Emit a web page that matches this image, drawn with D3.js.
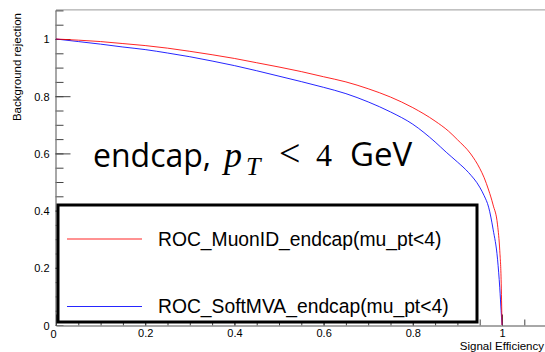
<!DOCTYPE html>
<html>
<head>
<meta charset="utf-8">
<script src="https://cdn.jsdelivr.net/npm/d3@7"></script>
<style>
  html, body { margin: 0; padding: 0; background: #fff; }
  svg { display: block; }
  text { fill: #000; }
</style>
</head>
<body>
<svg id="chart" width="545" height="352"></svg>
<script>
// ROC curves: signal efficiency vs background rejection, endcap muons with pT < 4 GeV
const muonIdEff = [0, 0.05, 0.10, 0.15, 0.20, 0.25, 0.30, 0.35, 0.40, 0.45, 0.50, 0.55, 0.60, 0.65, 0.70, 0.75, 0.80, 0.85, 0.88, 0.90, 0.93, 0.95, 0.96, 0.97, 0.98, 0.99, 0.995, 0.998, 1.0];
const muonIdRej = [1.0, 0.996, 0.991, 0.984, 0.977, 0.968, 0.957, 0.945, 0.932, 0.917, 0.902, 0.886, 0.868, 0.850, 0.826, 0.797, 0.760, 0.713, 0.678, 0.648, 0.598, 0.548, 0.515, 0.472, 0.420, 0.350, 0.260, 0.160, 0.0];

const softMvaEff = [0, 0.05, 0.10, 0.15, 0.20, 0.25, 0.30, 0.35, 0.40, 0.45, 0.50, 0.55, 0.60, 0.65, 0.70, 0.75, 0.80, 0.85, 0.875, 0.90, 0.925, 0.95, 0.96, 0.97, 0.98, 0.99, 0.995, 0.998, 1.0];
const softMvaRej = [1.0, 0.991, 0.982, 0.972, 0.963, 0.951, 0.938, 0.923, 0.907, 0.889, 0.870, 0.851, 0.831, 0.809, 0.780, 0.745, 0.702, 0.640, 0.604, 0.570, 0.533, 0.482, 0.452, 0.412, 0.335, 0.230, 0.130, 0.050, 0.0];

const seriesNames = ["ROC_MuonID_endcap(mu_pt<4)", "ROC_SoftMVA_endcap(mu_pt<4)"];
const seriesColors = ["#ff0000", "#0000ff"];

const xMajorTicks = [0, 0.2, 0.4, 0.6, 0.8, 1];
const xTickLabels = ["0", "0.2", "0.4", "0.6", "0.8", "1"];
const yMajorTicks = [0.2, 0.4, 0.6, 0.8, 1];
const yTickLabels = ["0.2", "0.4", "0.6", "0.8", "1"];
const minorTicks = d3.range(0, 23).map(i => +(i * 0.05).toFixed(2));

const xTitle = "Signal Efficiency";
const yTitle = "Background rejection";

const SANS = "'Liberation Sans', Arial, Helvetica, sans-serif";
const SERIF = "'Liberation Serif', 'DejaVu Serif', serif";
const LABEL = "'Open Sans', 'Noto Sans', sans-serif";

const svg = d3.select("#chart").style("font-family", SANS);
const x = d3.scaleLinear().domain([0, 1.1]).range([56, 546.6]);
const y = d3.scaleLinear().domain([0, 1.1]).range([325, 10.4]);

// frame (top edge; right edge falls outside the canvas)
svg.append("line")
  .attr("x1", x(0)).attr("x2", x(1.1))
  .attr("y1", y(1.1) - 0.5).attr("y2", y(1.1) - 0.5)
  .attr("stroke", "#9a9a9a").attr("stroke-width", 1);

// axes: minor ticks, then major ticks drawn inward
function styleAxis(g) {
  g.attr("font-family", null).attr("font-size", null);
  g.select(".domain").attr("stroke", "#8a8a8a");
  g.selectAll(".tick line").attr("stroke", "#444");
}

svg.append("g").attr("transform", `translate(${x(0) - 0.5},0)`)
  .call(d3.axisLeft(y).tickValues(minorTicks.filter(v => v <= 1.1)).tickSize(-8).tickSizeOuter(0).tickFormat(""))
  .call(styleAxis);
const yAxis = svg.append("g").attr("transform", `translate(${x(0) - 0.5},0)`)
  .call(d3.axisLeft(y).tickValues(yMajorTicks).tickSize(-15).tickSizeOuter(0)
    .tickFormat((d, i) => yTickLabels[i]).tickPadding(6))
  .call(styleAxis);
yAxis.selectAll(".tick text")
  .style("font-family", SANS).style("font-size", "11px").attr("fill", "#000")
  .attr("dy", "0.36em");

svg.append("g").attr("transform", `translate(0,${y(0) + 0.5})`)
  .call(d3.axisBottom(x).tickValues(minorTicks.filter(v => v <= 1.1)).tickSize(-6).tickSizeOuter(0).tickFormat(""))
  .call(styleAxis);
const xAxis = svg.append("g").attr("transform", `translate(0,${y(0) + 0.5})`)
  .call(d3.axisBottom(x).tickValues(xMajorTicks).tickSize(-11).tickSizeOuter(0)
    .tickFormat((d, i) => i === 0 ? "" : xTickLabels[i]).tickPadding(2))
  .call(styleAxis);
xAxis.selectAll(".tick text")
  .style("font-family", SANS).style("font-size", "11px").attr("fill", "#000")
  .attr("dy", "0.9em");

// origin labels sit slightly offset from the corner
svg.append("text").attr("x", 46.5).attr("y", y(0) + 4.5).attr("text-anchor", "middle")
  .style("font-size", "11px").text(xTickLabels[0]);
svg.append("text").attr("x", 53.5).attr("y", y(0) + 12.5).attr("text-anchor", "middle")
  .style("font-size", "11px").text(xTickLabels[0]);

// axis titles
svg.append("text").attr("x", 544).attr("y", 350).attr("text-anchor", "end")
  .style("font-size", "11.5px").text(xTitle);
svg.append("text").attr("transform", "translate(21,13) rotate(-90)").attr("text-anchor", "end")
  .style("font-size", "11.5px").text(yTitle);

// curves
const line = d3.line().x(d => x(d[0])).y(d => y(d[1])).curve(d3.curveMonotoneX);
const curves = [
  d3.zip(muonIdEff, muonIdRej),
  d3.zip(softMvaEff, softMvaRej)
];
// blue first so red sits on top
[1, 0].forEach(i => {
  svg.append("path").datum(curves[i]).attr("d", line)
    .attr("fill", "none").attr("stroke", seriesColors[i]).attr("stroke-width", 1)
    .attr("stroke-opacity", 0.85);
});

// annotation
const note = svg.append("g");
note.append("text").attr("x", 93).attr("y", 167)
  .style("font-family", LABEL).style("font-size", "32px").text("endcap,");
note.append("text").attr("x", 224).attr("y", 167)
  .style("font-family", SERIF).style("font-style", "italic")
  .style("font-size", "36px").text("p");
note.append("text").attr("x", 246).attr("y", 175)
  .style("font-family", SERIF).style("font-style", "italic")
  .style("font-size", "26px").text("T");
note.append("text").attr("x", 279).attr("y", 166)
  .style("font-family", SERIF).style("font-size", "38px").text("<");
note.append("text").attr("x", 316).attr("y", 166)
  .style("font-family", SERIF).style("font-size", "32px").text("4");
note.append("text").attr("x", 350).attr("y", 166)
  .style("font-family", LABEL).style("font-size", "33px").text("GeV");

// legend
const legend = svg.append("g");
legend.append("rect").attr("x", 58).attr("y", 205).attr("width", 419).attr("height", 117)
  .attr("fill", "#fff").attr("stroke", "#000").attr("stroke-width", 3);
const legendRows = [239, 306.5];
seriesNames.forEach((name, i) => {
  legend.append("line").attr("x1", 67).attr("x2", 142)
    .attr("y1", legendRows[i]).attr("y2", legendRows[i])
    .attr("stroke", seriesColors[i]).attr("stroke-width", 1.2).attr("stroke-opacity", 0.85);
  legend.append("text").attr("x", 158).attr("y", legendRows[i] + 6.5)
    .style("font-size", "19.3px").text(name);
});
</script>
</body>
</html>
